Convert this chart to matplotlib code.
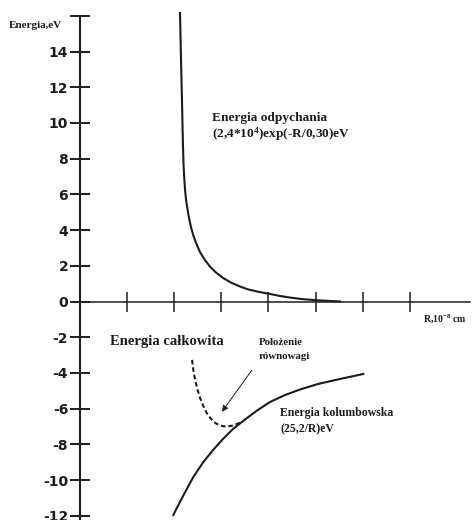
import matplotlib
matplotlib.use("Agg")
import matplotlib.pyplot as plt

plt.rcParams['mathtext.fontset'] = 'custom'
plt.rcParams['mathtext.rm'] = 'Liberation Serif:bold'
plt.rcParams['mathtext.it'] = 'Liberation Serif:bold'
plt.rcParams['mathtext.bf'] = 'Liberation Serif:bold'
plt.rcParams['mathtext.default'] = 'rm'

ink = '#1e1b1c'
serif = 'Liberation Serif'

# (R w jednostkach podziałki, E w eV)
rep_r = [2.124, 2.145, 2.167, 2.177, 2.188, 2.198, 2.213, 2.230, 2.251, 2.279, 2.315, 2.357,
         2.410, 2.474, 2.548, 2.654, 2.760, 2.888, 3.036, 3.206, 3.397, 3.566, 3.758, 4.033,
         4.244, 4.457, 4.732, 5.029, 5.516]
rep_e = [16.16, 13.64, 11.18, 9.89, 8.66, 7.76, 6.97, 6.30, 5.74, 5.24, 4.68, 4.17,
         3.67, 3.22, 2.77, 2.32, 1.96, 1.62, 1.32, 1.06, 0.84, 0.68, 0.56, 0.42,
         0.31, 0.22, 0.13, 0.07, 0.0]

coul_r = [1.982, 2.188, 2.400, 2.612, 2.824, 3.036, 3.248, 3.502, 3.757, 4.032, 4.350,
          4.668, 5.050, 5.516, 6.010]
coul_e = [-11.96, -10.90, -9.86, -9.02, -8.32, -7.70, -7.14, -6.61, -6.11, -5.63, -5.24,
          -4.93, -4.62, -4.34, -4.06]

tot_r = [2.38, 2.41, 2.45, 2.50, 2.55, 2.62, 2.69, 2.78, 2.87, 2.96, 3.05, 3.16, 3.26, 3.35, 3.45]
tot_e = [-3.27, -3.90, -4.47, -4.97, -5.41, -5.86, -6.25, -6.57, -6.80, -6.94, -6.99,
         -6.99, -6.94, -6.84, -6.71]

y_ticks = [-12, -10, -8, -6, -4, -2, 0, 2, 4, 6, 8, 10, 12, 14, 16]
y_labels = ['-12', '-10', '-8', '-6', '-4', '-2', '0', '2', '4', '6', '8', '10', '12', '14', '']
x_ticks = [1, 2, 3, 4, 5, 6, 7]

fig = plt.figure(figsize=(4.72, 5.2), dpi=100)
ax = fig.add_axes([0, 0, 1, 1])
ax.set_xlim(-1.692, 8.315)
ax.set_ylim(-12.24, 16.89)

ax.spines['top'].set_visible(False)
ax.spines['right'].set_visible(False)
ax.spines['left'].set_position(('data', 0))
ax.spines['bottom'].set_position(('data', 0))
ax.spines['left'].set_bounds(-12.4, 16)
ax.spines['bottom'].set_bounds(0, 8.27)
ax.spines['left'].set_linewidth(1.5)
ax.spines['bottom'].set_linewidth(1.1)
ax.spines['left'].set_color(ink)
ax.spines['bottom'].set_color(ink)

ax.set_yticks(y_ticks)
ax.set_yticklabels(y_labels, fontfamily='DejaVu Sans', fontweight='bold', fontsize=10, color=ink)
ax.set_xticks(x_ticks)
ax.set_xticklabels([])
ax.tick_params(axis='y', direction='inout', length=13.7, width=1.4, pad=1.5, colors=ink)
ax.tick_params(axis='x', direction='inout', length=15, width=1.1, colors=ink)

ax.plot(rep_r, rep_e, color=ink, lw=1.5, solid_joinstyle='round')
ax.plot(coul_r, coul_e, color=ink, lw=1.5, solid_joinstyle='round')
ax.plot(tot_r, tot_e, color=ink, lw=1.5, linestyle=(0, (2.2, 1.4)))

ax.annotate('', xy=(2.98, -6.3), xytext=(3.68, -3.73),
            arrowprops=dict(arrowstyle='-|>', lw=0.7, color=ink, mutation_scale=9))

ax.text(-1.51, 15.45, 'Energia,eV', fontfamily=serif, fontweight='bold', fontsize=8,
        color=ink, va='center', ha='left')
ax.text(7.27, -0.97, 'R,10$^{-8}$ cm', fontfamily=serif, fontweight='bold', fontsize=7,
        color=ink, va='center', ha='left')
ax.text(2.81, 10.3, 'Energia odpychania', fontfamily=serif, fontweight='bold', fontsize=9.6,
        color=ink, va='center', ha='left')
ax.text(2.81, 9.35, '(2,4*10$^{4}$)exp(-R/0,30)eV', fontfamily=serif, fontweight='bold',
        fontsize=9.6, color=ink, va='center', ha='left')
ax.text(0.63, -2.25, 'Energia całkowita', fontfamily=serif, fontweight='bold', fontsize=10.5,
        color=ink, va='center', ha='left')
ax.text(3.80, -2.32, 'Położenie', fontfamily=serif, fontweight='bold', fontsize=7.8,
        color=ink, va='center', ha='left')
ax.text(3.80, -3.1, 'równowagi', fontfamily=serif, fontweight='bold', fontsize=7.8,
        color=ink, va='center', ha='left')
ax.text(4.25, -6.25, 'Energia kolumbowska', fontfamily=serif, fontweight='bold', fontsize=8.5,
        color=ink, va='center', ha='left')
ax.text(4.25, -7.15, '(25,2/R)eV', fontfamily=serif, fontweight='bold', fontsize=8.5,
        color=ink, va='center', ha='left')

fig.savefig('out.png', dpi=100)
